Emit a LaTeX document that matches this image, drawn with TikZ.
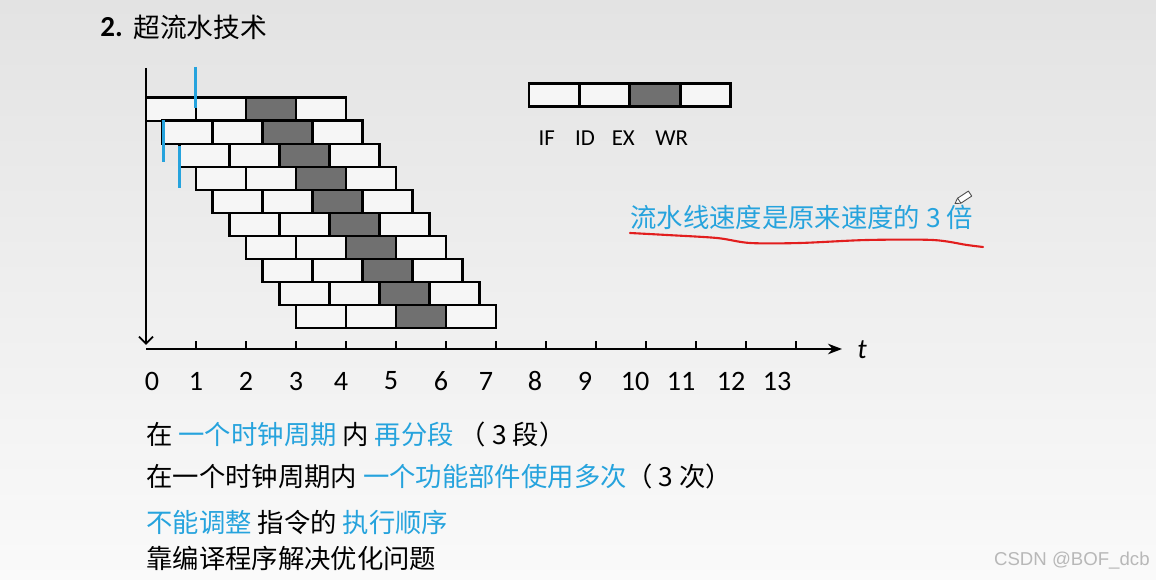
\documentclass[tikz,border=0pt]{standalone}
\usepackage{fontspec}
\setmainfont{Carlito}
\newfontfamily\cjk{Noto Sans CJK SC}
\newfontfamily\markfont{Liberation Sans}
\usetikzlibrary{arrows.meta}
\definecolor{stageblue}{RGB}{38,163,221}
\definecolor{exgray}{RGB}{112,112,112}
\definecolor{boxwhite}{RGB}{246,246,246}
\definecolor{penred}{RGB}{226,30,30}
\newcommand{\bluetxt}[1]{\textcolor{stageblue}{#1}}
\tikzset{
  stagebox/.style={draw, line width=1.4pt, fill=boxwhite, minimum width=1cm, minimum height=4.62mm, inner sep=0pt},
  exbox/.style={stagebox, fill=exgray},
  cntext/.style={anchor=west, inner sep=0pt, font=\cjk\fontsize{15}{17}\selectfont},
  numlabel/.style={inner sep=0pt, font=\fontsize{16}{18}\selectfont},
  leglabel/.style={inner sep=0pt, font=\fontsize{13}{15}\selectfont},
  bluestroke/.style={draw=stageblue, line width=1.6pt},
  axisline/.style={line width=1.1pt}
}
\begin{document}
\begin{tikzpicture}[x=0.2mm, y=-0.2mm]
\shade[top color=black!11, bottom color=black!2] (0,0) rectangle (1156,580);
\useasboundingbox (0,0) rectangle (1156,580);

% title
\node[cntext, font=\fontsize{16.5}{18}\selectfont\bfseries] (titlenum) at (100,27) {2.};
\node[cntext, font=\cjk\fontsize{15.2}{18}\selectfont] (title) at (133,27) {超流水技术};

% axes
\coordinate (origin) at (146,349);
\coordinate (ytop) at (146,68);
\coordinate (yend) at (146,345);
\coordinate (xend) at (842,349);
\draw[axisline, -{Straight Barb[length=4pt]}] (ytop) -- (yend);
\draw[axisline, -{Stealth[length=8pt, width=6pt]}] (origin) -- (xend);
\foreach \k in {1,...,13}
  \draw[line width=0.9pt] (146+50*\k,349) -- ++(0,-8);
\node[inner sep=0pt, font=\fontsize{16}{18}\selectfont\itshape] (tname) at (862,350) {t};
\foreach \n/\x in {0/152,1/196,2/246,3/296,4/341,5/391,6/441,7/486,8/535,9/585,10/635,11/681,12/731,13/777}
  \node[numlabel] (n\n) at (\x,381) {\n};

% pipeline rows
\foreach \i in {0,...,9} {
  \foreach \j/\st in {0/stagebox,1/stagebox,2/exbox,3/stagebox}
    \node[\st] (b\i-\j) at ({171+50*\i/3+50*\j},{109.2+23.05*\i}) {};
}

% blue pen marks
\draw[bluestroke] (195.7,67) -- (195.7,108);
\draw[bluestroke] (163.8,120) -- (163.8,162);
\draw[bluestroke] (179.3,146) -- (179.3,188);

% legend
\foreach \j/\st in {0/stagebox,1/stagebox,2/exbox,3/stagebox}
  \node[\st] (leg\j) at ({554+50.5*\j},95) {};
\foreach \nm/\x in {IF/546.7,ID/585,EX/623.3,WR/671.7}
  \node[leglabel] (lab\nm) at (\x,138) {\nm};

% speed remark
\node[cntext, text=stageblue] (speed) at (630,217) {流水线速度是原来速度的 3 倍};
\draw[penred, line width=1.2pt, line cap=round] plot[smooth] coordinates {(630,233) (667,235) (717,238) (750,243) (800,243) (867,240) (933,240) (967,245) (983,247)};
\filldraw[fill=white, draw=black!70, line width=0.5pt, line join=round] (955,203.5) -- (960.9,203.2) -- (971.7,196.1) -- (968.4,191.1) -- (957.6,198.2) -- cycle;
\draw[black!70, line width=0.5pt] (960.9,203.2) -- (957.6,198.2);

% notes
\node[cntext] (line1) at (146,434) {在 \bluetxt{一个时钟周期} 内 \bluetxt{再分段} （ 3 段）};
\node[cntext] (line2) at (146,476) {在一个时钟周期内 \bluetxt{一个功能部件使用多次}（ 3 次）};
\node[cntext] (line3) at (146,522) {\bluetxt{不能调整} 指令的 \bluetxt{执行顺序}};
\node[cntext] (line4) at (146,558) {靠编译程序解决优化问题};

\node[anchor=east, inner sep=0pt, text=black!28, font=\markfont\fontsize{10.6}{12}\selectfont] (wm) at (1150,561) {CSDN @BOF\_dcb};
\end{tikzpicture}
\end{document}
